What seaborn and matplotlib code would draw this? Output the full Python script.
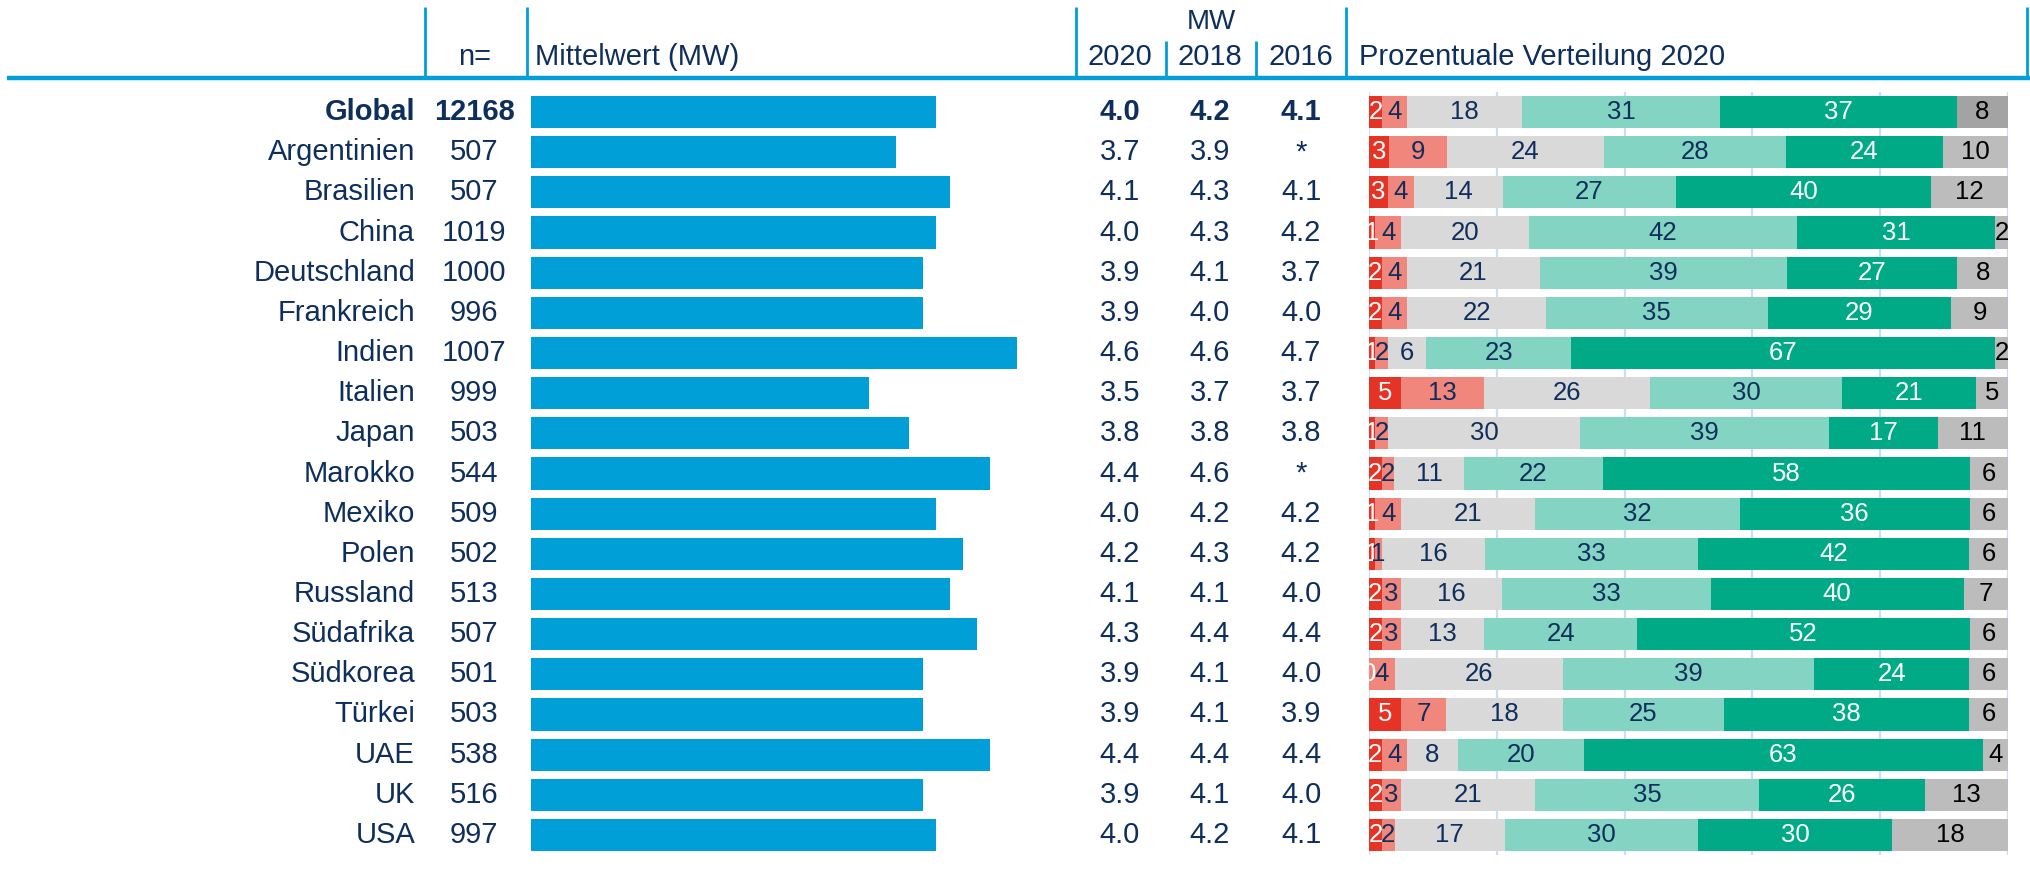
import matplotlib
matplotlib.use("Agg")
import numpy as np
import pandas as pd
import matplotlib.pyplot as plt
import seaborn as sns

# ---- data -------------------------------------------------------------
countries = ["Global", "Argentinien", "Brasilien", "China", "Deutschland",
             "Frankreich", "Indien", "Italien", "Japan", "Marokko", "Mexiko",
             "Polen", "Russland", "Südafrika", "Südkorea", "Türkei", "UAE",
             "UK", "USA"]
n_values = [12168, 507, 507, 1019, 1000, 996, 1007, 999, 503, 544, 509,
            502, 513, 507, 501, 503, 538, 516, 997]
mw_2020 = [4.0, 3.7, 4.1, 4.0, 3.9, 3.9, 4.6, 3.5, 3.8, 4.4, 4.0, 4.2,
           4.1, 4.3, 3.9, 3.9, 4.4, 3.9, 4.0]
mw_2018 = [4.2, 3.9, 4.3, 4.3, 4.1, 4.0, 4.6, 3.7, 3.8, 4.6, 4.2, 4.3,
           4.1, 4.4, 4.1, 4.1, 4.4, 4.1, 4.2]
mw_2016 = [4.1, None, 4.1, 4.2, 3.7, 4.0, 4.7, 3.7, 3.8, None, 4.2, 4.2,
           4.0, 4.4, 4.0, 3.9, 4.4, 4.0, 4.1]

# percentage distribution 2020, scale points 1..5 plus "keine Angabe"
pct_1 = [2, 3, 3, 1, 2, 2, 1, 5, 1, 2, 1, 1, 2, 2, 0, 5, 2, 2, 2]
pct_2 = [4, 9, 4, 4, 4, 4, 2, 13, 2, 2, 4, 1, 3, 3, 4, 7, 4, 3, 2]
pct_3 = [18, 24, 14, 20, 21, 22, 6, 26, 30, 11, 21, 16, 16, 13, 26, 18, 8, 21, 17]
pct_4 = [31, 28, 27, 42, 39, 35, 23, 30, 39, 22, 32, 33, 33, 24, 39, 25, 20, 35, 30]
pct_5 = [37, 24, 40, 31, 27, 29, 67, 21, 17, 58, 36, 42, 40, 52, 24, 38, 63, 26, 30]
pct_na = [8, 10, 12, 2, 8, 9, 2, 5, 11, 6, 6, 6, 7, 6, 6, 6, 4, 13, 18]

# ---- styling ----------------------------------------------------------
W, H = 2031, 869
NAVY = "#0e2e5c"
BLUE = "#009fd8"
GRID = "#c9def5"
seg_colors = ["#e53325", "#f0867c", "#d9d9d9", "#83d4c2", "#00aa86", "#bcbcbc"]
seg_text = ["white", NAVY, NAVY, NAVY, "white", "black"]
global_na_color = "#a3a3a3"

sns.set_theme(style="white")
plt.rcParams["font.family"] = ["Liberation Sans", "DejaVu Sans"]

fig = plt.figure(figsize=(W / 100, H / 100), dpi=100)

# rows occupy the band between these pixel rows
band_top, band_bot = 92, 855
b = (H - band_bot) / H
h = (band_bot - band_top) / H
nrows = len(countries)


def px_axes(x0, x1):
    return fig.add_axes([x0 / W, b, (x1 - x0) / W, h])


# ---- header (pixel coordinates) ----------------------------------------
hdr = fig.add_axes([0, 0, 1, 1])
hdr.set_xlim(0, W)
hdr.set_ylim(H, 0)
hdr.set_axis_off()
for x in [425, 527, 1076, 1346, 2027]:
    hdr.plot([x, x], [7, 78], color=BLUE, lw=2.0, solid_capstyle="butt")
for x in [1166, 1256]:
    hdr.plot([x, x], [41, 78], color=BLUE, lw=2.0, solid_capstyle="butt")
hdr.plot([7, W], [78, 78], color=BLUE, lw=3.2, solid_capstyle="butt")

hkw = dict(color=NAVY, fontsize=21, va="center")
hdr.text(475, 57, "n=", ha="center", **hkw)
hdr.text(535, 57, "Mittelwert (MW)", ha="left", **hkw)
hdr.text(1211, 22, "MW", ha="center", color=NAVY, fontsize=20, va="center")
for x, lab in zip([1120, 1210, 1301], ["2020", "2018", "2016"]):
    hdr.text(x, 57, lab, ha="center", **hkw)
hdr.text(1359, 57, "Prozentuale Verteilung 2020", ha="left", **hkw)

# ---- mean bars ----------------------------------------------------------
ax_mw = px_axes(531, 1071)
sns.barplot(x=mw_2020, y=countries, orient="h", color=BLUE, width=0.8,
            linewidth=0, saturation=1, ax=ax_mw)
ax_mw.set_xlim(1, 5)
ax_mw.set_ylim(nrows - 0.5, -0.5)
ax_mw.set_axis_off()

# ---- stacked percentage bars -------------------------------------------
ax_pct = px_axes(1369, 2008)
dist = pd.DataFrame({"c1": pct_1, "c2": pct_2, "c3": pct_3, "c4": pct_4,
                     "c5": pct_5, "na": pct_na}, index=countries)
share = dist.div(dist.sum(axis=1), axis=0) * 100
cum = share.cumsum(axis=1)
cols = list(dist.columns)

for k in range(len(cols) - 1, -1, -1):
    if k == len(cols) - 1:
        pal = {c: (global_na_color if c == "Global" else seg_colors[k])
               for c in countries}
    else:
        pal = {c: seg_colors[k] for c in countries}
    sns.barplot(x=cum[cols[k]].values, y=countries, hue=countries,
                palette=pal, legend=False, orient="h", width=0.8,
                linewidth=0, saturation=1, ax=ax_pct)

for i, c in enumerate(countries):
    for k, col in enumerate(cols):
        center = cum.loc[c, col] - share.loc[c, col] / 2
        ax_pct.text(center, i, str(dist.loc[c, col]), ha="center",
                    va="center", fontsize=18.5, color=seg_text[k],
                    clip_on=True)

ax_pct.set_xlim(0, 100)
ax_pct.set_ylim(nrows - 0.5, -0.5)
ax_pct.set_xticks(np.arange(0, 101, 20))
ax_pct.set_yticks([])
ax_pct.tick_params(length=0, labelbottom=False)
ax_pct.set_xlabel("")
ax_pct.set_ylabel("")
ax_pct.grid(axis="x", color=GRID, lw=1.6)
ax_pct.grid(axis="y", visible=False)
ax_pct.set_axisbelow(True)
for s in ax_pct.spines.values():
    s.set_visible(False)

# ---- row texts ------------------------------------------------------------
tab = px_axes(0, W)
tab.set_xlim(0, W)
tab.set_ylim(nrows - 0.5, -0.5)
tab.set_axis_off()
for i, c in enumerate(countries):
    weight = "bold" if c == "Global" else "normal"
    kw = dict(color=NAVY, fontsize=21, va="center", fontweight=weight)
    tab.text(415, i, c, ha="right", **kw)
    tab.text(474, i, str(n_values[i]), ha="center", **kw)
    for x, v in zip([1120, 1210, 1301], [mw_2020[i], mw_2018[i], mw_2016[i]]):
        lab = "*" if v is None else f"{v:.1f}"
        tab.text(x, i, lab, ha="center", **kw)

fig.savefig("out.png", dpi=100)
